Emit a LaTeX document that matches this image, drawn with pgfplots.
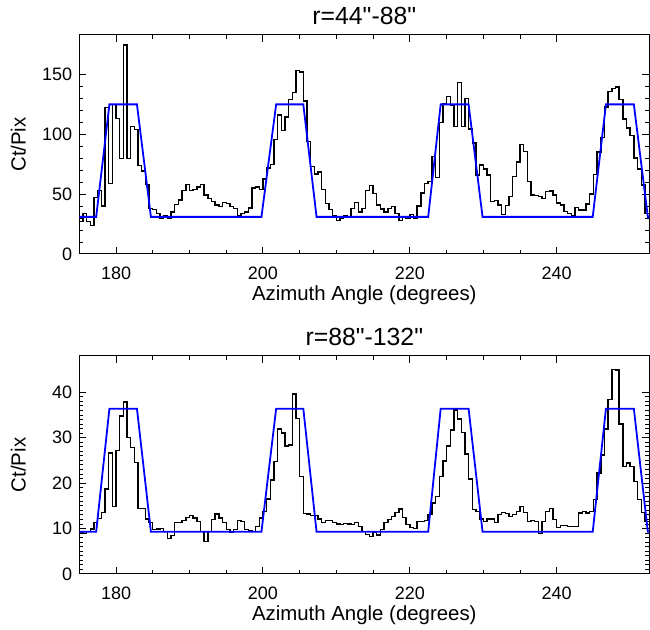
\documentclass[border=0pt]{standalone}
\usepackage{fontspec}
\setmainfont{Liberation Sans}[Ligatures=TeXOff]
\usepackage{pgfplots}
\pgfplotsset{compat=1.18}
\definecolor{idlblue}{RGB}{0,0,255}
\pgfplotsset{panel/.style={
  scale only axis, width=285pt, xmin=175, xmax=252.6,
  axis line style={line width=0.5pt},
  every tick/.style={black, line width=0.5pt},
  tick align=inside, xtick={180,200,220,240}, minor x tick num=3,
  major tick length=3.5pt, minor tick length=2pt,
  font=\fontsize{9}{11}\selectfont,
  /pgf/number format/assume math mode=true,
  xlabel={Azimuth Angle (degrees)},
  ylabel={Ct/Pix},
  every axis y label/.style={at={(axis description cs:-0.107,0.5)}, anchor=center, rotate=90, font=\fontsize{10.2}{12}\selectfont},
  every axis x label/.style={at={(axis description cs:0.5,0)}, anchor=base, yshift=-23.5pt, font=\fontsize{10.2}{12}\selectfont},
  xticklabel style={yshift=-3pt},
  every axis title/.style={at={(axis description cs:0.5,1)}, anchor=base, yshift=5pt, font=\fontsize{12.4}{14}\selectfont},
  clip=true,
}}
\begin{document}
\begin{tikzpicture}
\path[use as bounding box] (0,0) rectangle (325pt,315pt);
\begin{axis}[panel, at={(39.65pt,188pt)}, anchor=south west, height=109.5pt,
  ymin=0, ymax=183, ytick={0,50,100,150}, minor y tick num=4,
  title={r=44"-88"}]
\addplot[const plot mark left, black, line width=0.7pt] coordinates {
(175,27) (175.5,34) (176,27) (176.5,24) (177,47) (177.5,53) (178,40) (178.5,122.5) (179,59) (179.5,125)
(180,113) (180.5,80) (181,174.5) (181.5,80) (182,106.6) (182.5,104) (183,73.7) (183.5,69.5) (184,58) (184.5,38)
(185,37) (185.5,34) (186,30) (186.5,32) (187,30) (187.5,35) (188,41.6) (188.5,45) (189,53) (189.5,58)
(190,53) (190.5,54) (191,56) (191.5,58) (192,49.4) (192.5,46.6) (193,43.8) (193.5,41) (194,39.6) (194.5,43)
(195,42) (195.5,39.6) (196,38) (196.5,32) (197,33.7) (197.5,35) (198,38.5) (198.5,55) (199,56) (199.5,54)
(200,62.5) (200.5,72) (201,75) (201.5,95.5) (202,116) (202.5,103) (203,114.5) (203.5,129) (204,135) (204.5,153.5)
(205,152) (205.5,128) (206,94) (206.5,73) (207,67) (207.5,68.6) (208,54) (208.5,42) (209,37) (209.5,32)
(210,28) (210.5,29.5) (211,32) (211.5,31) (212,38) (212.5,42.8) (213,35) (213.5,38) (214,53) (214.5,57)
(215,50.7) (215.5,41) (216,37.6) (216.5,35) (217,38) (217.5,39.6) (218,34) (218.5,28) (219,31) (219.5,30)
(220,33) (220.5,30) (221,40) (221.5,51) (222,59) (222.5,60.5) (223,81.5) (223.5,64) (224,110) (224.5,125.6)
(225,131.8) (225.5,124) (226,106.6) (226.5,143.5) (227,106.6) (227.5,130) (228,104.4) (228.5,92.7) (229,66) (229.5,74.5)
(230,71) (230.5,66) (231,44) (231.5,44.7) (232,41) (232.5,33) (233,40.5) (233.5,48) (234,64.8) (234.5,76.8)
(235,91.3) (235.5,85.7) (236,60.6) (236.5,49.4) (237,48.8) (237.5,48) (238,46.6) (238.5,52.2) (239,52.7) (239.5,49.4)
(240,42.5) (240.5,41) (241,35.5) (241.5,34) (242,31.8) (242.5,38.8) (243,36.9) (243.5,36.9) (244,41.9) (244.5,50)
(245,66.2) (245.5,85.1) (246,97.4) (246.5,122.8) (247,136) (247.5,138.5) (248,139.6) (248.5,129) (249,112.8) (249.5,105.2)
(250,98.8) (250.5,80.1) (251,70.9) (251.5,57.8) (252,34) (252.6,34)
};
\addplot[idlblue, line width=0.9pt] coordinates {
(175,31) (177.3,31) (179.1,125) (182.85,125) (184.75,31) (199.8,31) (201.8,125) (205.5,125) (207.3,31)
(222.5,31) (224.2,125) (228,125) (229.9,31) (244.9,31) (246.7,125) (250.5,125) (252.4,31) (252.6,31)
};
\end{axis}
\begin{axis}[panel, at={(39.65pt,28pt)}, anchor=south west, height=109pt,
  ymin=0, ymax=48, ytick={0,10,20,30,40}, minor y tick num=9,
  title={r=88"-132"}]
\addplot[const plot mark left, black, line width=0.7pt] coordinates {
(175,9.05) (175.5,8.9) (176,9.4) (176.5,9.9) (177,11.3) (177.5,12.2) (178,13.6) (178.5,18.7) (179,26.6) (179.5,14.9)
(180,27.2) (180.5,34.8) (181,37.9) (181.5,30) (182,27.9) (182.5,24.5) (183,14.4) (183.5,14.4) (184,12.1) (184.5,11.4)
(185,9.8) (185.5,9.9) (186,10) (186.5,9.4) (187,7.8) (187.5,8.5) (188,11.4) (188.5,11.3) (189,11.8) (189.5,12.5)
(190,12.9) (190.5,12.3) (191,11.5) (191.5,9.4) (192,7.2) (192.5,9.4) (193,12) (193.5,13.2) (194,12.3) (194.5,11.3)
(195,9.8) (195.5,9.2) (196,9.8) (196.5,11.8) (197,11.6) (197.5,9.8) (198,9.6) (198.5,9.4) (199,10.5) (199.5,12.3)
(200,13.8) (200.5,16.5) (201,20.7) (201.5,24.8) (202,31.9) (202.5,31) (203,28.2) (203.5,28.4) (204,39.6) (204.5,34.3)
(205,21.5) (205.5,13.3) (206,13.2) (206.5,12.9) (207,12.9) (207.5,12.1) (208,11.3) (208.5,11.8) (209,11.8) (209.5,11.4)
(210,11) (210.5,10.9) (211,11.1) (211.5,11) (212,10.9) (212.5,11.4) (213,10.5) (213.5,9.4) (214,8.7) (214.5,8.2)
(215,9.1) (215.5,8.6) (216,9.8) (216.5,11.3) (217,12) (217.5,12.7) (218,13.6) (218.5,14.3) (219,12.5) (219.5,10.9)
(220,10.2) (220.5,10) (221,11.6) (221.5,11.6) (222,11.8) (222.5,13.1) (223,15.6) (223.5,17.1) (224,21.5) (224.5,24.9)
(225,28.2) (225.5,31.7) (226,36.1) (226.5,34.1) (227,31.2) (227.5,26.4) (228,20.9) (228.5,14.2) (229,13.8) (229.5,12.1)
(230,11.6) (230.5,12.1) (231,12.1) (231.5,11.3) (232,13.1) (232.5,13.6) (233,13.3) (233.5,12.6) (234,13.1) (234.5,13.8)
(235,14.9) (235.5,13.6) (236,11.6) (236.5,11.8) (237,11.6) (237.5,8.9) (238,11.6) (238.5,13.8) (239,14.4) (239.5,12)
(240,10.3) (240.5,10.7) (241,10.7) (241.5,10.5) (242,10.5) (242.5,10.5) (243,13.4) (243.5,13.8) (244,13.4) (244.5,13.8)
(245,16.4) (245.5,22.2) (246,26.2) (246.5,31.9) (247,38.4) (247.5,45) (248,44.9) (248.5,33) (249,23.7) (249.5,24.4)
(250,23.7) (250.5,20.4) (251,16.4) (251.5,13.6) (252,11.6) (252.6,11.3)
};
\addplot[idlblue, line width=0.9pt] coordinates {
(175,9.3) (177.3,9.3) (179.1,36.4) (182.85,36.4) (184.75,9.3) (199.8,9.3) (201.8,36.4) (205.5,36.4) (207.3,9.3)
(222.5,9.3) (224.2,36.4) (228,36.4) (229.9,9.3) (244.9,9.3) (246.7,36.4) (250.5,36.4) (252.4,9.3) (252.6,9.3)
};
\end{axis}
\end{tikzpicture}
\end{document}
